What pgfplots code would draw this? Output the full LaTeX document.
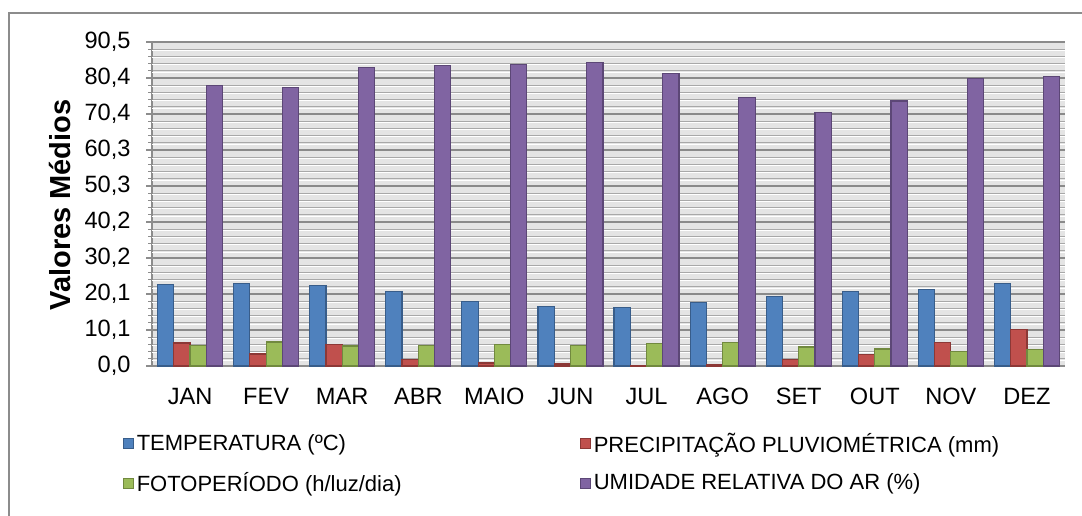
\documentclass[border=0pt]{standalone}
\usepackage{pgfplots}
\pgfplotsset{compat=1.18}
\usepackage{fontspec}
\setmainfont{Liberation Sans}
\definecolor{cblue}{HTML}{4F81BD}
\definecolor{cbluel}{HTML}{385D8A}
\definecolor{cred}{HTML}{C0504D}
\definecolor{credl}{HTML}{8C3836}
\definecolor{cgreen}{HTML}{9BBB59}
\definecolor{cgreenl}{HTML}{71893F}
\definecolor{cpurp}{HTML}{8064A2}
\definecolor{cpurpl}{HTML}{5C4776}
\definecolor{framec}{HTML}{8C8C8C}
\definecolor{bgc}{HTML}{E4E4E4}
\definecolor{majg}{HTML}{8A8A8A}
\definecolor{ming}{HTML}{A8A8A8}
\begin{document}
\begin{tikzpicture}[x=0.5pt,y=0.5pt]
\useasboundingbox (0,0) rectangle (1082,515);
\draw[color=framec, line width=1pt] (9,-20) -- (9,502) -- (1100,502);
\begin{axis}[
  at={(76pt,74.5pt)}, anchor=south west,
  scale only axis, width=456.5pt, height=162pt,
  xmin=-0.5, xmax=11.5, ymin=0, ymax=90.5,
  ybar=0pt, bar width=8.125pt,
  axis background/.style={fill=bgc},
  axis lines*=left,
  axis line style={color=framec, line width=0.75pt},
  xtick={0,...,11},
  xticklabels={JAN,FEV,MAR,ABR,MAIO,JUN,JUL,AGO,SET,OUT,NOV,DEZ},
  xtick style={draw=none},
  ytick={0,10.0556,20.1111,30.1667,40.2222,50.2778,60.3333,70.3889,80.4444,90.5},
  yticklabels={{0,0},{10,1},{20,1},{30,2},{40,2},{50,3},{60,3},{70,4},{80,4},{90,5}},
  minor ytick={2.0111,4.0222,6.0333,8.0444,12.0667,14.0778,16.0889,18.1,22.1222,24.1333,26.1444,28.1556,32.1778,34.1889,36.2,38.2111,42.2333,44.2444,46.2556,48.2667,52.2889,54.3,56.3111,58.3222,62.3444,64.3556,66.3667,68.3778,72.4,74.4111,76.4222,78.4333,82.4556,84.4667,86.4778,88.4889},
  extra y ticks={1.6611,3.6722,5.6833,7.6944,11.7167,13.7278,15.7389,17.75,21.7722,23.7833,25.7944,27.8056,31.8278,33.8389,35.85,37.8611,41.8833,43.8944,45.9056,47.9167,51.9389,53.95,55.9611,57.9722,61.9944,64.0056,66.0167,68.0278,72.05,74.0611,76.0722,78.0833,82.1056,84.1167,86.1278,88.1389},
  extra y tick labels={},
  extra y tick style={grid=major, major grid style={white, line width=0.5pt}, major tick length=0pt, tick style={draw=none}},
  tick align=outside,
  ytick style={color=framec, line width=0.6pt},
  major tick length=3pt, minor tick length=2pt,
  ymajorgrids, yminorgrids,
  major grid style={color=majg, line width=0.75pt},
  minor grid style={color=ming, line width=0.6pt},
  tick label style={font=\fontsize{11.8}{14}\selectfont, black},
  yticklabel style={xshift=-4.2pt},
  xticklabel style={yshift=-4.5pt},
  legend columns=2,
  legend style={draw=none, fill=none, at={(-0.039,-0.18)}, anchor=north west,
    font=\fontsize{11}{13}\selectfont, row sep=4.5pt,
    nodes={inner xsep=1.5pt},
    /tikz/every even column/.append style={column sep=0pt}},
  legend cell align=left,
  legend image code/.code={\draw[#1, line width=0.5pt] (0pt,-2.5pt) rectangle (5pt,2.5pt);},
]
\addplot[fill=cblue, draw=cbluel, line width=0.6pt] coordinates {(0,22.8) (1,23.1) (2,22.4) (3,20.9) (4,18.0) (5,16.7) (6,16.3) (7,17.7) (8,19.5) (9,20.9) (10,21.3) (11,23.1)};
\addlegendentry{\makebox[220pt][l]{TEMPERATURA (ºC)}}
\addplot[fill=cred, draw=credl, line width=0.6pt] coordinates {(0,6.4) (1,3.35) (2,6.06) (3,1.8) (4,0.85) (5,0.56) (6,0.1) (7,0.4) (8,1.8) (9,3.2) (10,6.6) (11,10.2)};
\addlegendentry{PRECIPITAÇÃO PLUVIOMÉTRICA (mm)}
\addplot[fill=cgreen, draw=cgreenl, line width=0.6pt] coordinates {(0,5.8) (1,6.7) (2,5.6) (3,5.7) (4,6.06) (5,5.7) (6,6.3) (7,6.5) (8,5.3) (9,4.75) (10,4.0) (11,4.5)};
\addlegendentry{\makebox[220pt][l]{FOTOPERÍODO (h/luz/dia)}}
\addplot[fill=cpurp, draw=cpurpl, line width=0.6pt] coordinates {(0,78.4) (1,77.8) (2,83.4) (3,83.9) (4,84.3) (5,84.7) (6,81.8) (7,74.9) (8,70.9) (9,74.0) (10,80.2) (11,80.8)};
\addlegendentry{UMIDADE RELATIVA DO AR (\%)}
\end{axis}
\node[rotate=90, font=\bfseries\fontsize{14.5}{17}\selectfont] at (60.5,310) {Valores Médios};
\end{tikzpicture}
\end{document}
